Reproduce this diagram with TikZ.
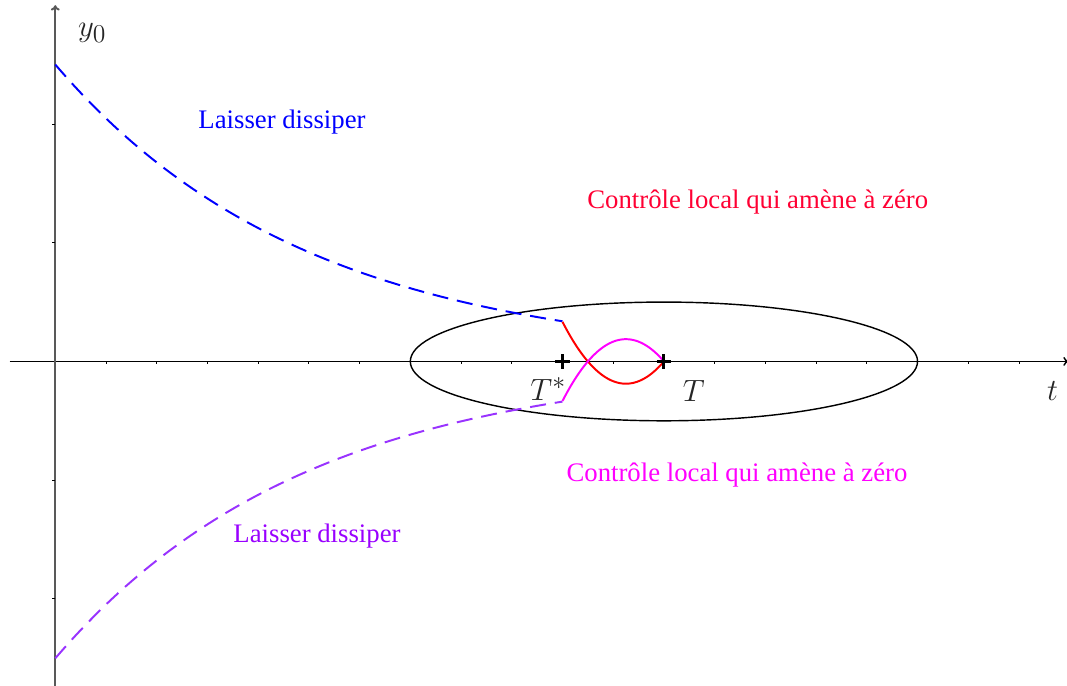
\documentclass[tikz,border=0pt]{standalone}
\usepackage{fontspec}
\setmainfont{Liberation Serif}
\usetikzlibrary{arrows.meta}
\definecolor{myblue}{rgb}{0,0,1}
\definecolor{myred}{rgb}{1,0,0}
\definecolor{myredtxt}{rgb}{1,0,0.2}
\definecolor{mymag}{rgb}{1,0,1}
\definecolor{mypurp}{rgb}{0.6,0.2,1}
\definecolor{mypurptxt}{rgb}{0.6,0,1}
\tikzset{
  lbl/.style={font=\fontsize{15}{18}\selectfont, inner sep=0pt},
  mlbl/.style={font=\fontsize{19}{22}\selectfont, inner sep=0pt, text=black!85},
  dashcurve/.style={line width=1.1pt, dash pattern=on 9pt off 5pt},
  solidcurve/.style={line width=1.1pt},
  tick/.style={line width=0.5pt},
  plusmark/.style={line width=1.7pt},
}
\begin{document}
\begin{tikzpicture}[x=1cm,y=2.341cm]
\useasboundingbox (-1.090,-2.733) rectangle (19.947,3.044);
% axes
\draw[line width=0.8pt,-{To[length=3pt,width=5pt]}] (-0.9,0) -- (19.98,0);
\draw[line width=1.1pt,black!65,-{To[length=3pt,width=5pt]}] (0,-2.9) -- (0,3);
% ticks
\foreach \k in {1,...,19} \draw[tick] (\k,0) -- ++(0,-1.7pt);
\foreach \k in {-2,-1,1,2} \draw[tick] (0,\k) -- ++(-1.7pt,0);
% ellipse
\draw[line width=0.8pt] (12,0) ellipse [x radius=5, y radius=0.5];
% dissipation curves
\draw[myblue,dashcurve] plot[domain=0:10,samples=80] (\x,{2.5*exp(-\x/5)});
\draw[mypurp,dashcurve] plot[domain=0:10,samples=80] (\x,{-2.5*exp(-\x/5)});
% local controls
\draw[myred,solidcurve] plot[domain=10:12,samples=50] (\x,{(\x-10.5)*(\x-12)/3});
\draw[mymag,solidcurve] plot[domain=10:12,samples=50] (\x,{-(\x-10.5)*(\x-12)/3});
% marks
\coordinate (Ts) at (10,0);
\coordinate (T) at (12,0);
\foreach \p in {Ts,T} {
  \draw[plusmark] ([xshift=-4pt]\p) -- ([xshift=4pt]\p);
  \draw[plusmark] ([yshift=-4pt]\p) -- ([yshift=4pt]\p);
}
% labels
\node[mlbl] (ly) at (0.73,2.77) {$y_0$};
\node[mlbl] (lt) at (19.66,-0.245) {$t$};
\node[mlbl] (lTs) at (9.72,-0.23) {$T^{*}$};
\node[mlbl] (lT) at (12.59,-0.25) {$T$};
\node[lbl,text=myblue] (l1) at (4.47,2.02) {Laisser dissiper};
\node[lbl,text=myredtxt] (l2) at (13.85,1.34) {Contrôle local qui amène à zéro};
\node[lbl,text=mymag] (l3) at (13.44,-0.96) {Contrôle local qui amène à zéro};
\node[lbl,text=mypurptxt] (l4) at (5.16,-1.47) {Laisser dissiper};
\end{tikzpicture}
\end{document}
